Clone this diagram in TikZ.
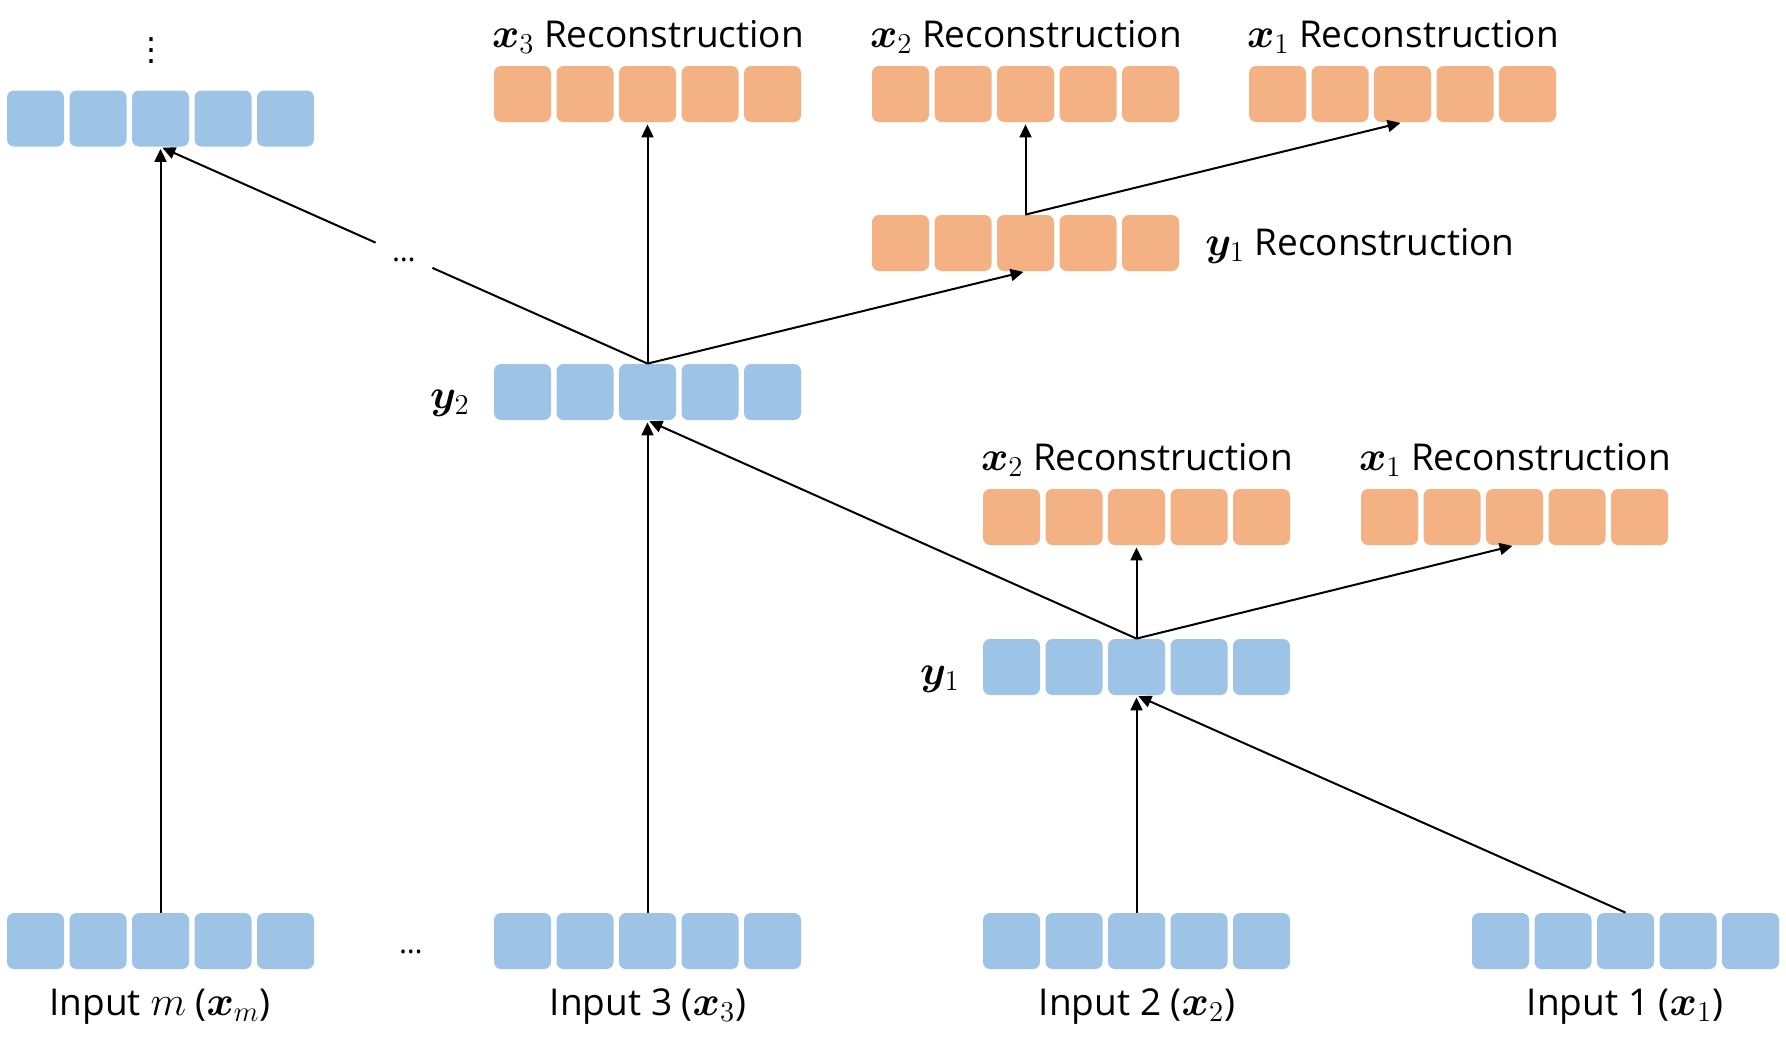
\documentclass[tikz,border=0pt]{standalone}
\usepackage{amsmath}
\usepackage{bm}
\usepackage{fontspec}
\setmainfont{Open Sans}
\newfontfamily\symfont{DejaVu Sans}
\usetikzlibrary{arrows.meta,calc}
\definecolor{boxblue}{HTML}{9DC3E6}
\definecolor{boxorange}{HTML}{F4B183}
\newcommand{\mth}[1]{{\fontsize{21}{25}\selectfont$#1$}}
\tikzset{
  cell/.style={rectangle, rounded corners=3.5pt, minimum width=28.5pt, minimum height=28pt, inner sep=0pt, draw=none},
  bluecell/.style={cell, fill=boxblue},
  orangecell/.style={cell, fill=boxorange},
  lbl/.style={font=\fontsize{18.5}{22}\selectfont, inner sep=0pt},
  hdots/.style={font=\fontsize{15}{18}\selectfont, inner sep=0pt},
  gapdots/.style={font=\fontsize{15}{18}\selectfont, inner sep=0pt, minimum width=28pt, minimum height=16pt},
  conn/.style={line width=1pt, -{Triangle[length=6.5pt,width=6pt]}, shorten >=1pt},
  seg/.style={line width=1pt},
}
\newcommand{\cellrow}[4]{%
  \foreach \i in {1,...,5} {
    \node[#4] (#1-\i) at ({#2+28.5+62.5*(\i-1)}, #3) {};
  }%
}
\begin{document}
\begin{tikzpicture}[x=0.5pt, y=-0.5pt]
\useasboundingbox (0,0) rectangle (1786,1049);

% rows
\cellrow{L}{7}{118.5}{bluecell}
\cellrow{X3T}{494}{94}{orangecell}
\cellrow{X2T}{872}{94}{orangecell}
\cellrow{X1T}{1249}{94}{orangecell}
\cellrow{Y1R}{872}{243}{orangecell}
\cellrow{Y2}{494}{392}{bluecell}
\cellrow{X2M}{983}{517}{orangecell}
\cellrow{X1M}{1361}{517}{orangecell}
\cellrow{Y1}{983}{667}{bluecell}
\cellrow{Bm}{7}{941}{bluecell}
\cellrow{B3}{494}{941}{bluecell}
\cellrow{B2}{983}{941}{bluecell}
\cellrow{B1}{1472}{941}{bluecell}

% labels
\node[lbl, anchor=base] (lx3t) at (648,47) {\mth{\bm{x}_3} Reconstruction};
\node[lbl, anchor=base] (lx2t) at (1026,47) {\mth{\bm{x}_2} Reconstruction};
\node[lbl, anchor=base] (lx1t) at (1403,47) {\mth{\bm{x}_1} Reconstruction};
\node[lbl, anchor=base west] (ly1r) at (1205,255) {\mth{\bm{y}_1} Reconstruction};
\node[lbl, anchor=base east] (ly2) at (470,408) {\mth{\bm{y}_2}};
\node[lbl, anchor=base] (lx2m) at (1137,470) {\mth{\bm{x}_2} Reconstruction};
\node[lbl, anchor=base] (lx1m) at (1515,470) {\mth{\bm{x}_1} Reconstruction};
\node[lbl, anchor=base east] (ly1) at (960,684) {\mth{\bm{y}_1}};
\node[lbl, anchor=base] (lbm) at (160,1015) {Input \mth{m} (\mth{\bm{x}_m})};
\node[lbl, anchor=base] (lb3) at (648,1015) {Input 3 (\mth{\bm{x}_3})};
\node[lbl, anchor=base] (lb2) at (1137,1015) {Input 2 (\mth{\bm{x}_2})};
\node[lbl, anchor=base] (lb1) at (1625,1015) {Input 1 (\mth{\bm{x}_1})};

% dots
\node[inner sep=0pt, font=\symfont\fontsize{16}{18}\selectfont] (vd) at (151,51) {⋮};
\node[hdots] (bd) at (411,952) {…};

% connectors
\draw[conn] (Bm-3.north) -- (L-3.south);
\coordinate (J2) at (Y2-3.north);
\node[gapdots] (gd) at ($(J2)!0.5!(L-3.south)$) {\raisebox{-6pt}{…}};
\draw[seg] (J2) -- (gd);
\draw[conn] (gd) -- (L-3.south);
\draw[conn] (J2) -- (X3T-3.south);
\draw[conn] (J2) -- (Y1R-3.south);
\coordinate (JR) at (Y1R-3.north);
\draw[conn] (JR) -- (X2T-3.south);
\draw[conn] (JR) -- (X1T-3.south);
\draw[conn] (B3-3.north) -- (Y2-3.south);
\coordinate (J1) at (Y1-3.north);
\draw[conn] (J1) -- (Y2-3.south);
\draw[conn] (J1) -- (X2M-3.south);
\draw[conn] (J1) -- (X1M-3.south);
\draw[conn] (B2-3.north) -- (Y1-3.south);
\draw[conn] (B1-3.north) -- (Y1-3.south);
\end{tikzpicture}
\end{document}
